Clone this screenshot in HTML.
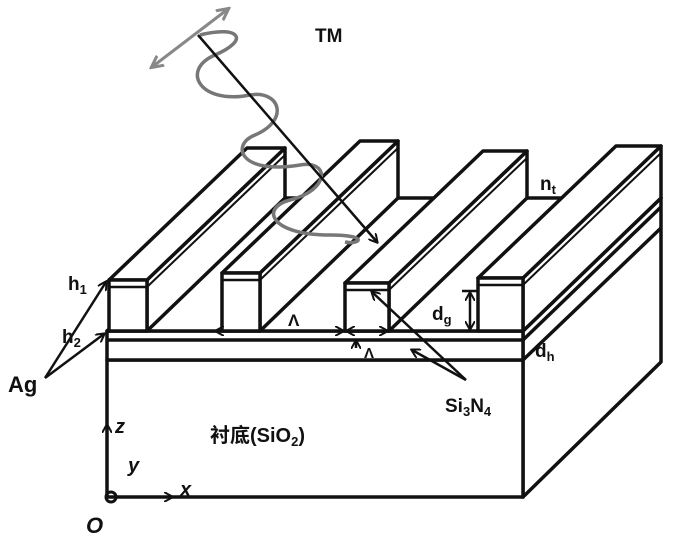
<!DOCTYPE html>
<html><head><meta charset="utf-8"><style>
html,body{margin:0;padding:0;background:#fff;width:674px;height:548px;overflow:hidden}
svg{display:block}
text{font-family:"Liberation Sans","Noto Sans CJK SC",sans-serif;font-weight:bold;fill:#111}
</style></head><body>
<svg width="674" height="548" viewBox="0 0 674 548" xmlns="http://www.w3.org/2000/svg">
<defs>
<marker id="ah" markerWidth="10" markerHeight="10" refX="8" refY="5" orient="auto" markerUnits="userSpaceOnUse"><path d="M0,0 L9,5 L0,10" fill="none" stroke="#111" stroke-width="2"/></marker>
<marker id="gh" markerWidth="14" markerHeight="14" refX="11" refY="7" orient="auto" markerUnits="userSpaceOnUse"><path d="M0,1 L12,7 L0,13" fill="none" stroke="#888" stroke-width="3"/></marker>
</defs>
<g stroke="#111" stroke-width="3.5" fill="#fff" stroke-linejoin="round">
<!-- substrate right face -->
<polygon points="523,331 661,198 661,362 523,497"/>
<line x1="523" y1="340" x2="661" y2="207"/>
<line x1="523" y1="360" x2="661" y2="228"/>
<!-- substrate front -->
<rect x="107" y="360" width="416" height="137"/>
<!-- layers front -->
<rect x="107" y="331" width="416" height="29"/>
<line x1="107" y1="340" x2="523" y2="340"/>
<!-- base top -->
<polygon points="107,331 523,331 661,198 245,198"/>
<!-- ridges -->
<g>
<polygon points="147,280 285,148 285,198 147,331"/>
<polygon points="109,280 147,280 285,148 247,148"/>
<rect x="109" y="280" width="38" height="51"/>
<line x1="109" y1="287" x2="147" y2="287" stroke-width="2.5"/>
<line x1="147" y1="287" x2="285" y2="155" stroke-width="2"/>
</g>
<g>
<polygon points="260,273 398,141 398,198 260,331"/>
<polygon points="222,273 260,273 398,141 360,141"/>
<rect x="222" y="273" width="38" height="58"/>
<line x1="222" y1="280" x2="260" y2="280" stroke-width="2.5"/>
<line x1="260" y1="280" x2="398" y2="148" stroke-width="2"/>
</g>
<g>
<polygon points="389,283 527,151 527,198 389,331"/>
<polygon points="345,283 389,283 527,151 483,151"/>
<rect x="345" y="283" width="44" height="48"/>
<line x1="345" y1="290" x2="389" y2="290" stroke-width="2.5"/>
<line x1="389" y1="290" x2="527" y2="158" stroke-width="2"/>
</g>
<g>
<polygon points="523,278 661,146 661,198 523,331"/>
<polygon points="478,278 523,278 661,146 616,146"/>
<rect x="478" y="278" width="45" height="53"/>
<line x1="478" y1="285" x2="523" y2="285" stroke-width="2.5"/>
<line x1="523" y1="285" x2="661" y2="153" stroke-width="2"/>
</g>
</g>
<!-- light -->
<path d="M200,35 C240,25 250,40 215,55 C180,70 200,105 250,95 C280,90 290,120 255,135 C230,145 240,175 300,165 C330,160 330,190 290,200 C260,208 270,235 330,235 C370,235 360,245 345,242" fill="none" stroke="#777" stroke-width="3.5"/>
<line x1="198" y1="35" x2="377" y2="242" stroke="#111" stroke-width="2.5" marker-end="url(#ah)"/>
<line x1="190" y1="38" x2="228" y2="9" stroke="#888" stroke-width="3" marker-end="url(#gh)"/>
<line x1="190" y1="38" x2="152" y2="67" stroke="#888" stroke-width="3" marker-end="url(#gh)"/>
<!-- annotations -->
<g stroke="#111" stroke-width="2.5" fill="none">
<line x1="45" y1="378" x2="106" y2="282" marker-end="url(#ah)"/>
<line x1="45" y1="378" x2="104" y2="334" marker-end="url(#ah)"/>
<line x1="107" y1="460" x2="107" y2="425" marker-end="url(#ah)"/>
<line x1="118" y1="497" x2="172" y2="497" marker-end="url(#ah)"/>
<circle cx="111" cy="497" r="5" stroke-width="3"/>
<line x1="232" y1="331" x2="216" y2="331" marker-end="url(#ah)"/>
<line x1="328" y1="331" x2="343" y2="331" marker-end="url(#ah)"/>
<line x1="360" y1="331" x2="347" y2="331" marker-end="url(#ah)"/>
<line x1="375" y1="331" x2="387" y2="331" marker-end="url(#ah)"/>
<line x1="356" y1="348" x2="356" y2="341" marker-end="url(#ah)"/>
<line x1="470" y1="310" x2="470" y2="293" marker-end="url(#ah)"/>
<line x1="470" y1="310" x2="470" y2="329" marker-end="url(#ah)"/>
<line x1="462" y1="291" x2="478" y2="291"/>
<line x1="523" y1="335" x2="523" y2="345"/>
<line x1="466" y1="380" x2="372" y2="292" marker-end="url(#ah)"/>
<line x1="466" y1="380" x2="412" y2="350" marker-end="url(#ah)"/>
</g>
<text x="315" y="42" font-size="19">TM</text>
<text x="540" y="190" font-size="19">n<tspan font-size="13" dy="4">t</tspan></text>
<text x="68" y="290" font-size="19">h<tspan font-size="13" dy="4">1</tspan></text>
<text x="62" y="343" font-size="19">h<tspan font-size="13" dy="4">2</tspan></text>
<text x="8" y="392" font-size="22">Ag</text>
<text x="432" y="320" font-size="19">d<tspan font-size="13" dy="4">g</tspan></text>
<text x="535" y="357" font-size="19">d<tspan font-size="13" dy="4">h</tspan></text>
<text x="288" y="326" font-size="17">Λ</text>
<text x="364" y="358" font-size="15">Λ</text>
<text x="445" y="412" font-size="19">Si<tspan font-size="13" dy="4">3</tspan><tspan dy="-4">N</tspan><tspan font-size="13" dy="4">4</tspan></text>
<text x="210" y="442" font-size="20" font-weight="normal">衬底(SiO<tspan font-size="13" dy="4">2</tspan><tspan dy="-4">)</tspan></text>
<text x="115" y="433" font-size="20" font-style="italic">z</text>
<text x="128" y="472" font-size="20" font-style="italic">y</text>
<text x="180" y="496" font-size="20" font-style="italic">x</text>
<text x="86" y="533" font-size="22" font-style="italic">O</text>
</svg>
</body></html>
